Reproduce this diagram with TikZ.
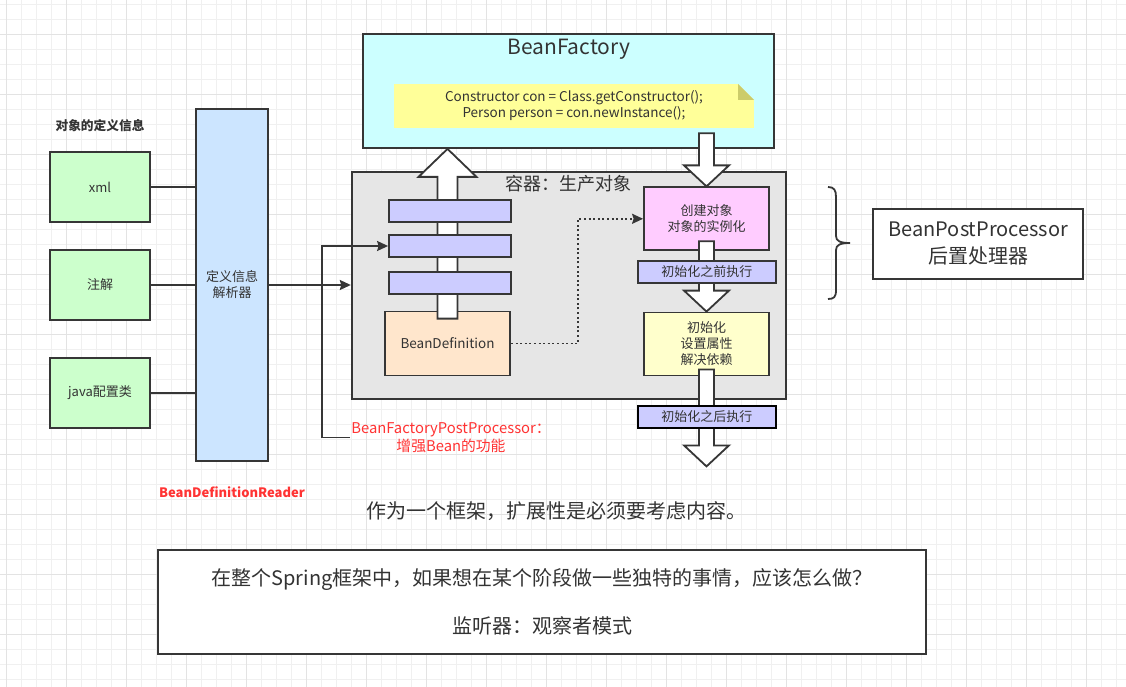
\documentclass[tikz,border=0pt]{standalone}
\usepackage{fontspec}
\setmainfont{Noto Sans CJK SC}
\usetikzlibrary{calc,arrows.meta}
\definecolor{strokec}{HTML}{363636}
\definecolor{textc}{HTML}{333333}
\definecolor{greenc}{HTML}{CCFFCC}
\definecolor{bluec}{HTML}{CCE5FF}
\definecolor{bfc}{HTML}{CCFFFF}
\definecolor{notey}{HTML}{FFFF99}
\definecolor{foldc}{HTML}{CCCC6A}
\definecolor{grayc}{HTML}{E6E6E6}
\definecolor{purplec}{HTML}{CCCCFF}
\definecolor{orangec}{HTML}{FFE6CC}
\definecolor{pinkc}{HTML}{FFCCFF}
\definecolor{yellowc}{HTML}{FFFFCC}
\definecolor{redc}{HTML}{FF3333}
\definecolor{gridminc}{HTML}{F0F0F0}
\definecolor{gridmajc}{HTML}{E3E3E3}
\newcommand\fsz[2]{\fontsize{#1}{#2}\selectfont}
% #1 start coordinate, #2 tip coordinate, #3 shaft half width, #4 head half width, #5 head length (screen units, + = base below tip)
\newcommand\blkarrow[5]{\draw[hollow]
  ($(#1)+(-#3,0)$) -- ($(#1 |- #2)+(-#3,#5)$) -- ($(#1 |- #2)+(-#4,#5)$) -- (#1 |- #2) --
  ($(#1 |- #2)+(#4,#5)$) -- ($(#1 |- #2)+(#3,#5)$) -- ($(#1)+(#3,0)$) -- cycle;}
\tikzset{
  base/.style={draw=strokec, line width=1.8pt, inner sep=0pt, text=textc, align=center},
  greenbox/.style={base, fill=greenc, minimum width=100pt, minimum height=70pt, font=\fsz{13}{16}},
  barbox/.style={base, fill=purplec, minimum height=22pt},
  stagebox/.style={base, minimum width=125pt, minimum height=63pt, font=\fsz{13}{16}},
  conn/.style={draw=strokec, line width=1.8pt},
  arr/.style={conn, -{Stealth[inset=1.5pt,length=11pt,width=10pt]}},
  dotarr/.style={arr, dash pattern=on 2pt off 2.6pt},
  hollow/.style={draw=strokec, fill=white, line width=1.8pt, line join=miter},
  gridmin/.style={draw=gridminc, line width=1pt},
  gridmaj/.style={draw=gridmajc, line width=1pt},
}
\begin{document}
\begin{tikzpicture}[x=1pt,y=-1pt]
\useasboundingbox (0,0) rectangle (1126,687);
\fill[white] (0,0) rectangle (1126,687);
\foreach \i in {0,...,75} \draw[gridmin] ({6.7+15*\i},0) -- ++(0,687);
\foreach \j in {0,...,46} \draw[gridmin] (0,{4.3+15*\j}) -- ++(1126,0);
\foreach \i in {0,...,18} \draw[gridmaj] ({6.7+60*\i},0) -- ++(0,687);
\foreach \j in {0,...,11} \draw[gridmaj] (0,{34.3+60*\j}) -- ++(1126,0);

% left side
\node[font=\bfseries\fsz{12.7}{15}, text=textc] (deflabel) at (100,126) {对象的定义信息};
\node[greenbox] (xml) at (100,187) {xml};
\node[greenbox] (zj) at (100,285) {注解};
\node[greenbox] (java) at (100,392.7) {java配置类};
\node[base, fill=bluec, minimum width=72pt, minimum height=352pt, font=\fsz{13}{16}] (parser) at (232,285) {定义信息\\解析器};
\node[font=\bfseries\fsz{13}{16}, text=redc] (reader) at (232,492) {BeanDefinitionReader};
\draw[conn] (xml.east) -- (xml.east -| parser.west);
\draw[conn] (zj.east) -- (zj.east -| parser.west);
\draw[conn] (java.east) -- (java.east -| parser.west);

% BeanFactory
\node[base, fill=bfc, minimum width=411pt, minimum height=114pt,
  label={[font=\fsz{21}{25}, text=textc, anchor=center, yshift=-16pt]north:BeanFactory}] (bf) at (568.8,91) {};
\node[inner sep=0pt, minimum width=360pt, minimum height=44pt, text=textc, align=center, font=\fsz{13.5}{16},
  path picture={
    \fill[notey] (path picture bounding box.south west) rectangle (path picture bounding box.north east);
    \fill[bfc] ($(path picture bounding box.north east)+(-16,0)$) -- (path picture bounding box.north east) -- ($(path picture bounding box.north east)+(0,16)$) -- cycle;
    \fill[foldc] ($(path picture bounding box.north east)+(-16,0)$) -- ($(path picture bounding box.north east)+(0,16)$) -- ($(path picture bounding box.north east)+(-16,16)$) -- cycle;
  }] (note) at (574,106) {Constructor con = Class.getConstructor();\\Person person = con.newInstance();};

% container
\node[base, fill=grayc, minimum width=434pt, minimum height=227pt,
  label={[font=\fsz{18}{22}, text=textc, anchor=center, yshift=-12.5pt]north:容器：生产对象}] (cont) at (568.7,285.3) {};
\node[base, fill=orangec, minimum width=125pt, minimum height=64pt, font=\fsz{13.5}{16}] (bd) at (447.5,343.5) {BeanDefinition};
\node[stagebox, fill=pinkc] (create) at (706.5,218.8) {创建对象\\对象的实例化};
\node[stagebox, fill=yellowc] (init) at (706.5,344) {初始化\\设置属性\\解决依赖};

% block arrows
\coordinate (upS) at ($(bd.north)+(0,8)$);
\coordinate (upT) at (bd.north |- bf.south);
\blkarrow{upS}{upT}{10}{29}{28}
\coordinate (d1S) at ($(create.north |- note.south)+(0,5)$);
\blkarrow{d1S}{create.north}{7.5}{22.5}{-21}
\coordinate (d2S) at ($(create.south)+(0,-10)$);
\blkarrow{d2S}{init.north}{7.5}{22.5}{-21}
\coordinate (d3S) at ($(init.south)+(0,-7)$);
\coordinate (out) at ($(init.south)+(0,90)$);
\blkarrow{d3S}{out}{7.5}{22.5}{-21}

% bars
\node[barbox, minimum width=122pt] (b1) at (450,211) {};
\node[barbox, minimum width=122pt] (b2) at (450,246) {};
\node[barbox, minimum width=122pt] (b3) at (450,283.3) {};
\node[barbox, minimum width=138pt, font=\fsz{13}{16}] (before) at (706.8,272) {初始化之前执行};
\node[barbox, draw=black, minimum width=138pt, font=\fsz{13}{16}] (after) at (706.8,417) {初始化之后执行};

% connectors
\draw[arr] (parser.east) -- (parser.east -| cont.west);
\draw[dotarr] (bd.east) -- ++(67,0) |- (create.west);
\node[font=\fsz{14.8}{17.5}, text=redc, align=center, inner sep=1pt] (bfpp) at (451,437.5) {BeanFactoryPostProcessor：\\增强Bean的功能};
\draw[arr] (bfpp.west) -- ++(-28,0) |- (b2.west);

% brace and BeanPostProcessor
\draw[conn] (828,187) .. controls (834,187) and (836,190) .. (836,197) -- (836,236)
  .. controls (836,241) and (840,243) .. (850,243)
  .. controls (840,243) and (836,245) .. (836,250) -- (836,290)
  .. controls (836,297) and (834,299) .. (828,299);
\node[base, fill=white, minimum width=210pt, minimum height=70pt, font=\fsz{20}{26.5}] (bpp) at (978.3,243.7) {BeanPostProcessor\\后置处理器};

% bottom
\node[font=\fsz{20}{24}, text=textc] (stmt) at (556,511) {作为一个框架，扩展性是必须要考虑内容。};
\node[base, fill=white, minimum width=768pt, minimum height=104pt, font=\fsz{20}{24}] (q) at (542,602)
  {在整个Spring框架中，如果想在某个阶段做一些独特的事情，应该怎么做？\\[24pt]监听器：观察者模式};
\end{tikzpicture}
\end{document}
